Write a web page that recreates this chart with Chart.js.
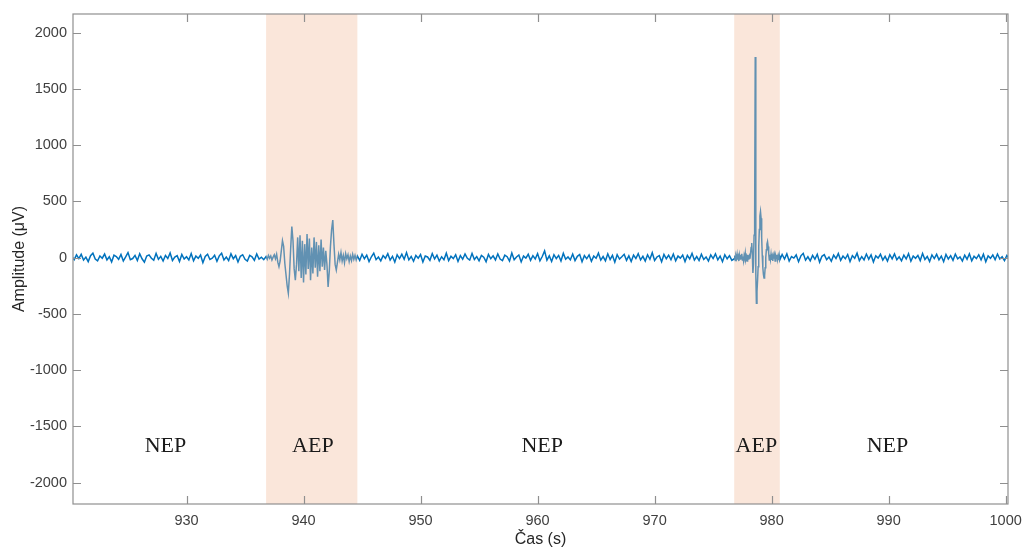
<!DOCTYPE html>
<html>
<head>
<meta charset="utf-8">
<script src="https://cdn.jsdelivr.net/npm/chart.js@4/dist/chart.umd.min.js"></script>
<style>
	body { margin: 0; background: #fff; }
	#wrap { width: 1027px; height: 549px; }
</style>
</head>
<body>
<div id="wrap"><canvas id="eegChart"></canvas></div>
<script>
// Signal segments: start time (s), sample step (s), amplitudes (uV)
const nep1Start = 920.2, nep1Step = 0.2;
const nep1 = [12,-18,25,-8,30,-22,5,-35,18,40,-12,-28,15,-5,32,-20,8,-38,22,10,
	-15,28,-30,6,45,-18,-8,20,-25,35,-10,-40,15,25,-5,-22,38,-15,12,-30,
	20,-8,42,-25,5,18,-35,28,-12,8,-20,36,-28,14,-6,24,-45,10,30,-16,
	-4,22,-32,16,40,-20,6,-26,34,-10,18,-38,12,26,-14,-30,20,8,-24,32,
	-12,4,-18];

const aep1Start = 936.8, aep1Step = 0.1;
const aep1 = [10,-15,20,-5,15,-20,5,25,-10,30,-40,-80,-30,60,150,100,-50,-150,-250,-316,
	-150,80,276,150,-100,-200,-60,180,-120,200,-180,150,-220,120,-150,210,-100,170,-200,90,
	-140,180,-90,140,-170,110,-120,160,-80,90,-110,60,-60,-260,-120,100,250,335,120,-60,
	-110,-40,30,-20,45,-30,20,-45,35,-10,25,-35,15,-25,30,-15,20,-20];

const nep2Start = 944.6, nep2Step = 0.2;
const nep2 = [15,-25,30,-10,22,-35,8,40,-18,5,-28,18,-6,35,-22,12,-40,25,-8,30,
	-15,45,-20,10,-32,20,-5,28,-38,14,6,-24,36,-12,22,-30,8,-18,40,-26,
	12,-8,26,-34,18,-14,32,-6,-22,38,-16,10,-28,20,4,-36,28,-10,16,-20,
	34,-12,-26,22,8,-30,42,-18,6,24,-38,14,-4,30,-24,18,-12,36,-28,10,
	60,-22,16,-34,26,-8,20,-30,38,-14,6,-20,32,-26,12,28,-36,18,-10,24,
	-32,14,-6,40,-22,10,-28,34,-16,20,-40,26,-12,8,30,-24,16,-34,22,-8,
	36,-20,12,-30,26,-14,44,-26,6,18,-36,28,-10,22,-18,32,-28,14,-4,24,
	-34,20,-12,38,-22,10,-26,30,-16,6,-30,24,-8,34,-20,14,-36,26,-10,18,
	-24];

const aep2Start = 976.8, aep2Step = 0.05;
const aep2 = [-10,20,-25,15,-5,30,-18,8,-30,22,-12,25,-8,35,-20,10,-28,18,-6,40,-15,5,-30,25,-12,10,
	20,-10,40,90,130,40,-137,-60,200,350,1784,-150,-405,-300,-200,-80,100,250,370,409,350,180,20,-90,
	-150,-180,-160,-90,0,70,120,142,100,40,-20,
	25,-15,30,-20,10,-28,18,-8,22,-30,15,-5,25,-18,12,-22,20];

const nep3Start = 980.7, nep3Step = 0.2;
const nep3 = [-20,28,-12,34,-30,10,-4,24,-36,16,38,-22,8,-28,20,-14,30,-40,12,26,
	-18,6,-32,22,-8,36,-24,14,-10,28,-34,18,-6,40,-26,10,-20,32,-14,24,
	-38,16,-4,30,-22,12,-30,26,-10,34,-18,8,-28,22,-12,36,-32,14,-6,20,
	-26,38,-16,10,-34,24,-8,30,-20,14,-36,28,-12,18,-24,32,-10,6,-30,22,
	-14,34,-28,12,-8,26,-20,30,-36,16,-6,24,-18,32,-12,8,-26,20,-10];

// Shaded AEP intervals
const bandStarts = [936.8, 976.8];
const bandEnds = [944.6, 980.7];

// Region labels
const regionNames = ['NEP', 'AEP', 'NEP', 'AEP', 'NEP'];
const regionTimes = [928.2, 940.8, 960.4, 978.7, 989.9];
const regionLevel = -1680;

const xTicks = [930, 940, 950, 960, 970, 980, 990, 1000];
const yTicks = [-2000, -1500, -1000, -500, 0, 500, 1000, 1500, 2000];

function toPoints(start, step, values) {
	return values.map((v, i) => ({ x: start + i * step, y: v }));
}

const signal = [].concat(
	toPoints(nep1Start, nep1Step, nep1),
	toPoints(aep1Start, aep1Step, aep1),
	toPoints(nep2Start, nep2Step, nep2),
	toPoints(aep2Start, aep2Step, aep2),
	toPoints(nep3Start, nep3Step, nep3)
);

// Bands drawn over the trace (semi-transparent, like the original patch)
const bandPlugin = {
	id: 'bands',
	afterDatasetsDraw(chart) {
		const { ctx, chartArea: a, scales: { x, y } } = chart;
		ctx.save();
		ctx.fillStyle = 'rgba(242, 192, 162, 0.4)';
		bandStarts.forEach((s, i) => {
			const x0 = x.getPixelForValue(s);
			const x1 = x.getPixelForValue(bandEnds[i]);
			ctx.fillRect(x0, a.top, x1 - x0, a.bottom - a.top);
		});
		ctx.fillStyle = '#1a1a1a';
		ctx.font = '22px "Liberation Serif", "Times New Roman", serif';
		ctx.textAlign = 'center';
		ctx.textBaseline = 'middle';
		regionNames.forEach((name, i) => {
			ctx.fillText(name, x.getPixelForValue(regionTimes[i]), y.getPixelForValue(regionLevel));
		});
		ctx.restore();
	}
};

// MATLAB-style box with inward ticks on all four sides
const framePlugin = {
	id: 'frame',
	afterDraw(chart) {
		const { ctx, chartArea: a, scales: { x, y } } = chart;
		const len = 8;
		ctx.save();
		ctx.strokeStyle = '#8f8f8f';
		ctx.lineWidth = 1.2;
		ctx.strokeRect(a.left, a.top, a.right - a.left, a.bottom - a.top);
		ctx.beginPath();
		xTicks.forEach(t => {
			const px = Math.round(x.getPixelForValue(t)) + 0.5;
			ctx.moveTo(px, a.bottom); ctx.lineTo(px, a.bottom - len);
			ctx.moveTo(px, a.top); ctx.lineTo(px, a.top + len);
		});
		yTicks.forEach(t => {
			const py = Math.round(y.getPixelForValue(t)) + 0.5;
			ctx.moveTo(a.left, py); ctx.lineTo(a.left + len, py);
			ctx.moveTo(a.right, py); ctx.lineTo(a.right - len, py);
		});
		ctx.stroke();
		ctx.restore();
	}
};

const tickFont = { family: '"Liberation Sans", Arial, sans-serif', size: 14.5 };
const titleFont = { family: '"Liberation Sans", Arial, sans-serif', size: 16 };

new Chart(document.getElementById('eegChart'), {
	type: 'line',
	data: {
		datasets: [{
			data: signal,
			borderColor: '#0072BD',
			borderWidth: 1.5,
			pointRadius: 0,
			tension: 0,
			fill: false
		}]
	},
	options: {
		responsive: true,
		maintainAspectRatio: false,
		animation: false,
		layout: { padding: { top: 14, right: 19, left: 0, bottom: 0 } },
		plugins: {
			legend: { display: false },
			tooltip: { enabled: false }
		},
		scales: {
			x: {
				type: 'linear',
				min: 920.3,
				max: 1000.2,
				afterFit: s => { s.height = 45; s.paddingLeft = 0; s.paddingRight = 0; },
				afterBuildTicks: s => { s.ticks = xTicks.map(v => ({ value: v })); },
				grid: { display: false, drawTicks: false },
				border: { display: false },
				ticks: { color: '#404040', font: tickFont, padding: 8, maxRotation: 0, callback: v => String(v) },
				title: { display: true, text: 'Čas (s)', color: '#262626', font: titleFont, padding: { top: 0, bottom: 0 } }
			},
			y: {
				min: -2190,
				max: 2166,
				afterFit: s => { s.width = 73; s.paddingTop = 0; s.paddingBottom = 0; },
				afterBuildTicks: s => { s.ticks = yTicks.map(v => ({ value: v })); },
				grid: { display: false, drawTicks: false },
				border: { display: false },
				ticks: { color: '#404040', font: tickFont, padding: 6, callback: v => String(v) },
				title: { display: true, text: 'Amplitude (μV)', color: '#262626', font: titleFont, padding: { top: 10, bottom: 0 } }
			}
		}
	},
	plugins: [bandPlugin, framePlugin]
});
</script>
</body>
</html>
